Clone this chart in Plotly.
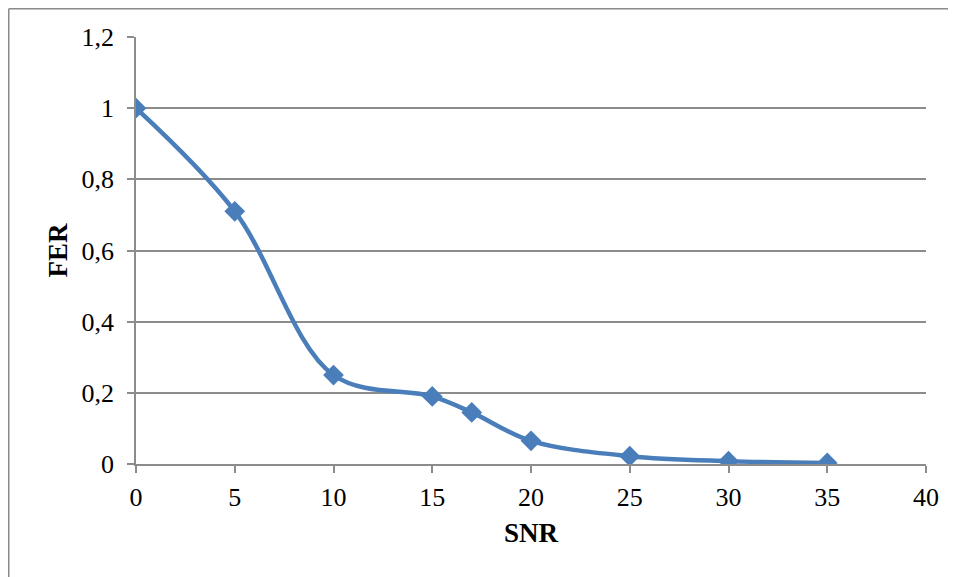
import plotly.graph_objects as go

snr = [0, 5, 10, 15, 17, 20, 25, 30, 35]
fer = [1.0, 0.71, 0.25, 0.19, 0.145, 0.065, 0.022, 0.008, 0.003]

# the page body has an 8px margin, so the figure is placed at (8, 8)
W, H = 948, 569
L, R, T, B = 128, 918, 29, 456

def px(x):
    return (x - L) / (R - L)

def py(y):
    return (B - y) / (B - T)

fig = go.Figure()
fig.add_trace(go.Scatter(
    x=snr, y=fer, mode="lines+markers",
    line=dict(color="#4A7EBB", width=4.5, shape="spline", smoothing=1.0),
    marker=dict(symbol="diamond", size=16, color="#4A7EBB"),
    showlegend=False,
))

grid = "#8C8C8C"
font = "Liberation Serif, Times New Roman, serif"

fig.update_layout(
    width=W, height=H,
    margin=dict(l=L, r=W - R, t=T, b=H - B),
    paper_bgcolor="white", plot_bgcolor="white",
    separators=", ",
    font=dict(family=font, size=26, color="black"),
    xaxis=dict(
        range=[0, 40], tickvals=[0, 5, 10, 15, 20, 25, 30, 35, 40],
        showgrid=False, zeroline=False,
        showline=True, linecolor=grid, linewidth=1.5,
        ticks="outside", ticklen=7, tickcolor=grid, tickwidth=1.5,
        ticklabelstandoff=2,
        title=dict(text="<b>SNR</b>", font=dict(size=27), standoff=12),
    ),
    yaxis=dict(
        range=[0, 1.2], tickvals=[0, 0.2, 0.4, 0.6, 0.8, 1.0, 1.2],
        showgrid=True, gridcolor=grid, gridwidth=1.5, zeroline=False,
        showline=True, linecolor=grid, linewidth=1.5,
        ticks="outside", ticklen=7, tickcolor=grid, tickwidth=1.5,
        ticklabelstandoff=8,
        title=dict(text="<b>FER</b>", font=dict(size=27), standoff=6),
    ),
    shapes=[
        dict(type="line", xref="paper", yref="paper",
             x0=px(0.75), x1=px(0.75), y0=py(0.75), y1=py(H + 5),
             line=dict(color="#8A8A8A", width=1.5)),
        dict(type="line", xref="paper", yref="paper",
             x0=px(0.75), x1=px(W + 5), y0=py(0.75), y1=py(0.75),
             line=dict(color="#8A8A8A", width=1.5)),
    ],
)

fig.write_html("out.html")
